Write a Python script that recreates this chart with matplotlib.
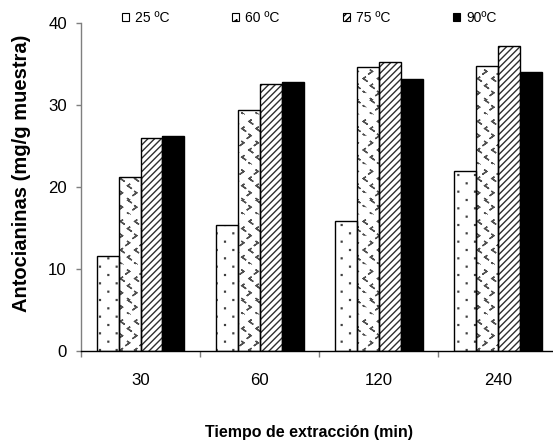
import numpy as np
import matplotlib
matplotlib.use("Agg")
import matplotlib.pyplot as plt
from matplotlib import hatch as mhatch
from matplotlib import font_manager as fm
from matplotlib.path import Path
from matplotlib.patches import Patch

# ---- data -------------------------------------------------------------
tiempos = ["30", "60", "120", "240"]
temperaturas = ["25 ºC", "60 ºC", "75 ºC", "90ºC"]
t25 = [11.6, 15.4, 15.8, 22.0]
t60 = [21.2, 29.4, 34.6, 34.8]
t75 = [26.0, 32.6, 35.2, 37.2]
t90 = [26.2, 32.8, 33.2, 34.0]
y_ticks = [0, 10, 20, 30, 40]


# ---- fonts ------------------------------------------------------------
def pick_family(*names):
    for name in names:
        try:
            fm.findfont(fm.FontProperties(family=name), fallback_to_default=False)
            return name
        except ValueError:
            continue
    return None


narrow = pick_family("Liberation Sans Narrow", "Arial Narrow")
if narrow:
    base_family, k = narrow, 1.0
else:
    base_family, k = "Liberation Sans", 0.86
fs_tick = 14 * k
fs_leg = 11.6 * k
fs_xlab = 13.4 * k


# ---- custom hatch textures (staggered dots and chevrons) ---------------
class _TileHatch(mhatch.HatchPatternBase):
    key = ""
    nx, ny = 6, 12

    def motif(self, row):
        raise NotImplementedError

    def __init__(self, hatch, density):
        self.num_vertices = 0
        if not hatch or self.key not in hatch:
            return
        verts, codes = [], []
        for r in range(self.ny + 1):
            y = r / self.ny
            shift = 0.5 / self.nx if r % 2 else 0.0
            for c in range(-1, self.nx + 1):
                xx = c / self.nx + shift
                v, cd = self.motif(r)
                verts.append(np.asarray(v, float) + [xx, y])
                codes.append(np.asarray(cd, dtype=Path.code_type))
        self._v = np.concatenate(verts)
        self._c = np.concatenate(codes)
        self.num_vertices = len(self._v)

    def set_vertices_and_codes(self, vertices, codes):
        vertices[:] = self._v
        codes[:] = self._c


class DotHatch(_TileHatch):
    key = "."
    nx, ny = 6, 12

    def motif(self, row):
        s = 0.004
        v = [(-s, -s), (s, -s), (s, s), (-s, s), (-s, -s)]
        c = [Path.MOVETO, Path.LINETO, Path.LINETO, Path.LINETO, Path.CLOSEPOLY]
        return v, c


class ChevronHatch(_TileHatch):
    key = "*"
    nx, ny = 7, 14

    def motif(self, row):
        a, b = 0.010, 0.014
        d = 1 if row % 4 in (0, 1) else -1
        # drawn forward and back so the stroke shows with no filled area
        v = [(-d * a, b), (d * a, 0), (-d * a, -b), (d * a, 0), (-d * a, b)]
        c = [Path.MOVETO] + [Path.LINETO] * 4
        return v, c


mhatch._hatch_types = [
    mhatch.HorizontalHatch,
    mhatch.VerticalHatch,
    mhatch.NorthEastHatch,
    mhatch.SouthEastHatch,
    DotHatch,
    ChevronHatch,
]

plt.rcParams["font.family"] = [base_family, "DejaVu Sans"]
plt.rcParams["hatch.linewidth"] = 1.0

# ---- figure -----------------------------------------------------------
W, H = 553, 445
fig = plt.figure(figsize=(W / 100, H / 100), dpi=100)
ax = fig.add_axes([81 / W, 94 / H, 476.5 / W, 328 / H])

series = [t25, t60, t75, t90]
hatches = [".", "*", "/////", None]
faces = ["white", "white", "white", "black"]
hatch_cols = ["#404040", "#505050", "#2e2e2e", "black"]

x = np.arange(len(tiempos))
w = 0.184
for i, (vals, hp, fc, hc) in enumerate(zip(series, hatches, faces, hatch_cols)):
    pos = x + (i - 1.5) * w
    ax.bar(pos, vals, w, color=fc, edgecolor=hc, linewidth=0, hatch=hp, zorder=2)
    ax.bar(pos, vals, w, fill=False, edgecolor="black", linewidth=1.0, zorder=3)

ax.set_xlim(-0.5, 3.5)
ax.set_ylim(0, 40)
for side in ("top", "right"):
    ax.spines[side].set_visible(False)
ax.spines["left"].set_color("#7f7f7f")
ax.spines["bottom"].set_color("black")
ax.spines["left"].set_linewidth(1.0)
ax.spines["bottom"].set_linewidth(1.0)

ax.set_yticks(y_ticks)
ax.tick_params(axis="y", length=3.6, width=1, color="#7f7f7f", pad=6.5,
               labelsize=fs_tick)
ax.set_xticks(np.arange(-0.5, len(tiempos), 1.0))
ax.set_xticklabels([])
ax.set_xticks(x, tiempos, minor=True)
ax.tick_params(axis="x", which="major", length=4.3, width=1, color="#7f7f7f")
ax.tick_params(axis="x", which="minor", length=0, pad=16, labelsize=fs_tick)

# ---- legend -----------------------------------------------------------
handles = [Patch(facecolor=fc, edgecolor="black", hatch=hp, linewidth=0.8)
           for fc, hp in zip(faces, hatches)]
fig.legend(handles, temperaturas, ncol=4, loc="center left",
           bbox_to_anchor=(122 / W, 1 - 18 / H), frameon=False,
           fontsize=fs_leg, handlelength=0.5, handleheight=0.5,
           handletextpad=0.43, columnspacing=4.55, borderpad=0,
           borderaxespad=0)

# ---- axis titles ------------------------------------------------------
fig.text(22 / W, 1 - 173 / H, "Antocianinas (mg/g muestra)", rotation=90,
         ha="center", va="center", fontsize=14.5, fontweight="bold",
         family=["Liberation Sans", "DejaVu Sans"])
fig.text(309 / W, 1 - 433 / H, "Tiempo de extracción (min)", ha="center",
         va="center", fontsize=fs_xlab, fontweight="bold")

fig.savefig("out.png", dpi=100, facecolor="white")
